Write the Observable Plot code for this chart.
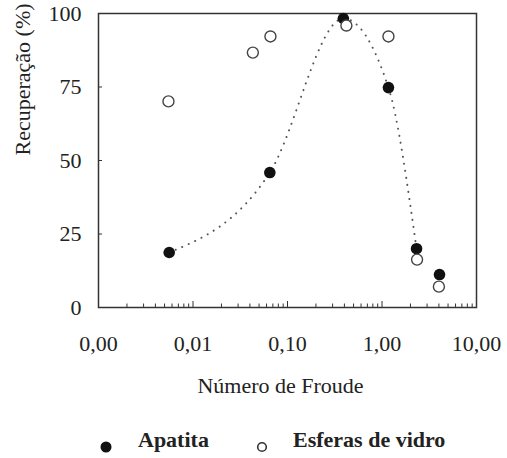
<!DOCTYPE html>
<html>
<head>
<meta charset="utf-8">
<script src="https://cdn.jsdelivr.net/npm/d3@7"></script>
<script src="https://cdn.jsdelivr.net/npm/@observablehq/plot@0.6"></script>
<style>
  body { margin: 0; background: white; }
  #chart svg { display: block; }
</style>
</head>
<body>
<div id="chart"></div>
<script>
// Data
const apatitaX = [0.0056, 0.065, 0.39, 1.17, 2.32, 4.06];
const apatitaY = [18.7, 45.9, 98.3, 74.8, 20.0, 11.2];
const esferasX = [0.0055, 0.043, 0.066, 0.42, 1.17, 2.35, 4.0];
const esferasY = [70.1, 86.7, 92.2, 95.9, 92.2, 16.3, 7.1];
const curveCount = 5; // dotted trend curve through the first five Apatita points

const xTickValues = [0.001, 0.01, 0.1, 1, 10];
const yTickValues = [0, 25, 50, 75, 100];
const xMinorMultipliers = [2, 3, 4, 5, 6, 7, 8, 9];
const xDecades = [0.001, 0.01, 0.1, 1];
const yInnerTicks = [25, 50, 75];

const seriesNames = ["Apatita", "Esferas de vidro"];
const xLabel = "Número de Froude";
const yLabel = "Recuperação (%)";

const apatita = apatitaX.map((x, i) => ({x, y: apatitaY[i]}));
const esferas = esferasX.map((x, i) => ({x, y: esferasY[i]}));
const curvePts = apatita.slice(0, curveCount);
const xMinor = xDecades.flatMap(d => xMinorMultipliers.map(m => d * m));
const xMajorInner = xTickValues.slice(1, -1);

const fmt = d => d3.format(".2f")(d).replace(".", ",");

const W = 507, H = 410;
const mL = 98, mR = 31, mT = 13, mB = 103;
const plotH = H - mT - mB, plotW = W - mL - mR;
const serif = "'Liberation Serif', 'DejaVu Serif', serif";

const chart = Plot.plot({
  width: W,
  height: H,
  marginLeft: mL,
  marginRight: mR,
  marginTop: mT,
  marginBottom: mB,
  style: {fontFamily: serif, fontSize: "22px", color: "#222", background: "white"},
  x: {type: "log", domain: [0.001, 10]},
  y: {domain: [0, 100]},
  marks: [
    Plot.axisX({ticks: xTickValues, tickSize: 0, tickPadding: 28, tickFormat: fmt, label: null}),
    Plot.axisY({ticks: yTickValues, tickSize: 0, tickPadding: 17, label: null}),
    Plot.tickX(xMinor, {x: d => d, insetTop: plotH - 3.5, stroke: "#333", strokeWidth: 1}),
    Plot.tickX(xMajorInner, {x: d => d, insetTop: plotH - 6, stroke: "#333", strokeWidth: 1}),
    Plot.tickY(yInnerTicks, {y: d => d, insetRight: plotW - 4, stroke: "#333", strokeWidth: 1}),
    Plot.frame({stroke: "#333", strokeWidth: 1.5}),
    Plot.line(curvePts, {x: "x", y: "y", curve: "monotone-x", stroke: "#555", strokeWidth: 2, strokeDasharray: "0.1,7", strokeLinecap: "round"}),
    Plot.dot(apatita, {x: "x", y: "y", r: 5.8, fill: "#111"}),
    Plot.dot(esferas, {x: "x", y: "y", r: 5.5, fill: "white", stroke: "#444", strokeWidth: 1.4}),
    Plot.text([xLabel], {text: d => d, frameAnchor: "bottom", dx: -7, dy: 78, lineAnchor: "middle", fill: "#222"}),
    Plot.text([yLabel], {text: d => d, frameAnchor: "left", rotate: -90, dx: -76, dy: -5, lineAnchor: "middle", fill: "#222"})
  ]
});
document.getElementById("chart").appendChild(chart);

// Legend below the plot
const leg = d3.select("#chart").append("svg")
  .attr("width", W).attr("height", 48)
  .style("display", "block")
  .style("font-family", serif)
  .style("font-size", "22px")
  .style("font-weight", "bold");
leg.append("circle").attr("cx", 106).attr("cy", 37).attr("r", 5.5).attr("fill", "#111");
leg.append("text").attr("x", 138).attr("y", 37).attr("fill", "#222").text(seriesNames[0]);
leg.append("circle").attr("cx", 262).attr("cy", 37).attr("r", 4.3).attr("fill", "white").attr("stroke", "#333").attr("stroke-width", 1.6);
leg.append("text").attr("x", 293).attr("y", 37).attr("fill", "#222").text(seriesNames[1]);
</script>
</body>
</html>
